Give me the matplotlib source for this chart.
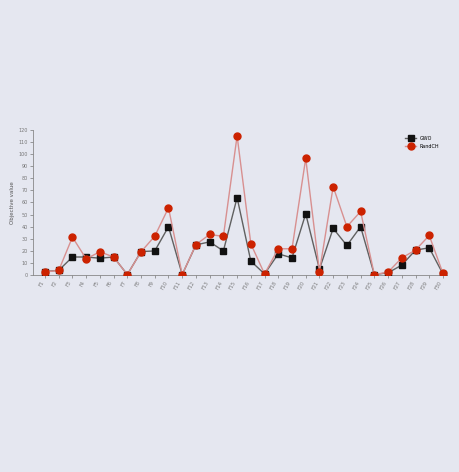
import matplotlib
matplotlib.use("Agg")
import matplotlib.pyplot as plt
import numpy as np

categories = [f"F{i}" for i in range(1, 31)]
gwo = [3, 4, 15, 15, 14, 15, 0.5, 19.5, 20, 40, 0.5, 25, 27.5, 20, 64, 11.6, 1, 17.6, 14.3, 50.7,
       5, 38.6, 24.5, 40, 0.5, 2, 8.3, 20.7, 22.6, 1]
randch = [2.7, 3.9, 31.4, 13.5, 19.3, 15, 0.5, 19.3, 32.2, 55.6, 0.5, 25.3, 33.6, 32, 115, 25.9, 1, 21.8, 21.8, 96.4,
          3, 73, 40, 52.6, 0.5, 2.5, 14.3, 20.7, 32.8, 1.5]
series_names = ["GWO", "RandCH"]
yticks = list(range(0, 121, 10))

fig = plt.figure(figsize=(4.59, 4.72), dpi=100)
fig.patch.set_facecolor("#e5e7f0")
ax = fig.add_axes([0.072, 0.417, 0.902, 0.308])
ax.set_facecolor("none")

x = np.arange(len(categories))
ax.plot(x, gwo, color="#606060", lw=1.0, marker="s", ms=4.5, mfc="#111111", mec="#111111",
        label=series_names[0], zorder=3)
ax.plot(x, randch, color="#d89090", lw=1.0, marker="o", ms=5, mfc="#cc2200", mec="#cc2200",
        label=series_names[1], zorder=4)

ax.set_xlim(-0.87, 29.3)
ax.set_ylim(0, 120)
ax.set_yticks(yticks)
ax.set_yticklabels([str(v) for v in yticks], fontsize=3.5, color="#555555")
ax.set_xticks(x)
ax.set_xticklabels(categories, rotation=60, fontsize=3.5, color="#666666", ha="right")
ax.tick_params(axis="both", length=2, width=0.5, colors="#777777", pad=1.5)
for s in ["top", "right"]:
    ax.spines[s].set_visible(False)
for s in ["left", "bottom"]:
    ax.spines[s].set_color("#888888")
    ax.spines[s].set_linewidth(0.6)
ax.set_ylabel("Objective value", fontsize=4, color="#555555", labelpad=3)

leg = ax.legend(loc="upper right", bbox_to_anchor=(0.99, 0.98), fontsize=3.5, frameon=False,
                handlelength=2.2, labelspacing=0.6, borderpad=0.2)

fig.savefig("out.png", dpi=100, facecolor=fig.get_facecolor())
